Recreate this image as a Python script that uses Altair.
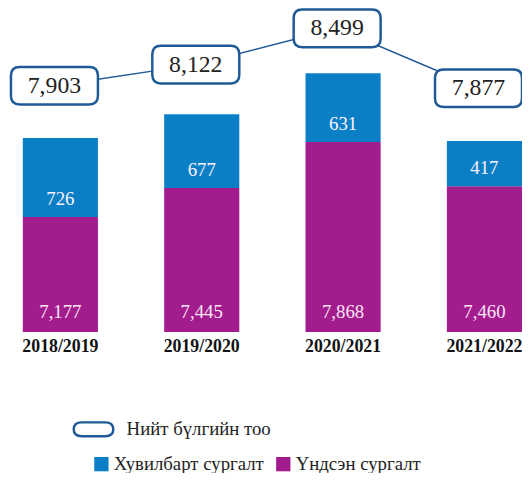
import altair as alt
import pandas as pd

years = ["2018/2019", "2019/2020", "2020/2021", "2021/2022"]
main_vals = [7177, 7445, 7868, 7460]      # Үндсэн сургалт
alt_vals = [726, 677, 631, 417]           # Хувилбарт сургалт
totals = [7903, 8122, 8499, 7877]         # Нийт бүлгийн тоо

cat_alt = "Хувилбарт сургалт"
cat_main = "Үндсэн сургалт"
cat_total = "Нийт бүлгийн тоо"

BLUE = "#0a7fc6"
MAGENTA = "#a31c8e"
BOX = "#1f5a96"

# bar scale (axis starts above zero, as in the original infographic)
Y_MIN, Y_MAX = 6120, 9075
# scale for the total callouts drawn above the bars
BOX_MIN, BOX_MAX = 5343, 8683

rows = []
for y, m, a in zip(years, main_vals, alt_vals):
    rows.append({"year": y, "cat": cat_main, "value": m, "ord": 0})
    rows.append({"year": y, "cat": cat_alt, "value": a, "ord": 1})
bars_df = pd.DataFrame(rows)

lab_df = pd.DataFrame({
    "year": years,
    "main": main_vals,
    "alt": alt_vals,
    "main_lbl": [f"{v:,}" for v in main_vals],
    "alt_lbl": [f"{v:,}" for v in alt_vals],
})

tot_df = pd.DataFrame({
    "year": years,
    "total": totals,
    "lbl": [f"{v:,}" for v in totals],
    "series": [cat_total] * len(years),
})

xscale = alt.Scale(paddingInner=0.4685, paddingOuter=0.0524, align=1)
x_enc = alt.X(
    "year:N", sort=years, scale=xscale, title=None,
    axis=alt.Axis(labelAngle=0, domain=False, ticks=False, labelPadding=6,
                  labelFont="Liberation Serif", labelFontWeight="bold",
                  labelFontSize=18, labelColor="#111"),
)
x_plain = alt.X("year:N", sort=years, scale=xscale)
yscale = alt.Scale(domain=[Y_MIN, Y_MAX], zero=False, nice=False)
bscale = alt.Scale(domain=[BOX_MIN, BOX_MAX], zero=False, nice=False)

bars = alt.Chart(bars_df).mark_bar(clip=True).encode(
    x=x_enc,
    y=alt.Y("sum(value):Q", scale=yscale, axis=None, stack="zero"),
    color=alt.Color(
        "cat:N",
        scale=alt.Scale(domain=[cat_alt, cat_main], range=[BLUE, MAGENTA]),
        legend=alt.Legend(orient="none", legendX=85, legendY=449,
                          direction="horizontal", title=None,
                          symbolType="square", symbolSize=210,
                          symbolStrokeWidth=0, labelFont="Liberation Serif",
                          labelFontSize=19, labelColor="#222",
                          labelOffset=3, columnPadding=10, padding=0),
    ),
    order=alt.Order("ord:Q", sort="ascending"),
)

alt_text = alt.Chart(lab_df).mark_text(
    font="Liberation Serif", fontSize=19, color="#fdf3fb", dy=-18, baseline="middle"
).encode(
    x=x_plain,
    y=alt.Y("main:Q", scale=yscale, axis=None),
    text="alt_lbl:N",
)

main_text = alt.Chart(lab_df).mark_text(
    font="Liberation Serif", fontSize=19, color="#fbe6f6", dy=-20, baseline="middle"
).encode(
    x=x_plain,
    y=alt.datum(Y_MIN, type="quantitative", scale=yscale, axis=None),
    text="main_lbl:N",
)

bar_part = alt.layer(bars, alt_text, main_text)

box_path = ("M -0.8 -0.432 L 0.8 -0.432 Q 1 -0.432 1 -0.232 L 1 0.232 "
            "Q 1 0.432 0.8 0.432 L -0.8 0.432 Q -1 0.432 -1 0.232 "
            "L -1 -0.232 Q -1 -0.432 -0.8 -0.432 Z")
legend_path = ("M -0.6 -0.35 L 0.6 -0.35 Q 1 -0.35 1 0 Q 1 0.35 0.6 0.35 "
               "L -0.6 0.35 Q -1 0.35 -1 0 Q -1 -0.35 -0.6 -0.35 Z")

XOFF = -6

line = alt.Chart(tot_df).mark_line(
    color=BOX, strokeWidth=1.5, xOffset=XOFF
).encode(
    x=x_plain,
    y=alt.Y("total:Q", scale=bscale, axis=None),
)

boxes = alt.Chart(tot_df).mark_point(
    shape=box_path, filled=False, fill="white", fillOpacity=1, strokeWidth=2.5,
    opacity=1, size=7744, xOffset=XOFF,
).encode(
    x=x_plain,
    y=alt.Y("total:Q", scale=bscale, axis=None),
    stroke=alt.Stroke(
        "series:N", scale=alt.Scale(domain=[cat_total], range=[BOX]),
        legend=alt.Legend(
            orient="none", legendX=65, legendY=402, title=None,
            symbolType=legend_path, symbolSize=1600,
            symbolFillColor="white", symbolStrokeWidth=2.5, symbolOpacity=1,
            labelFont="Liberation Serif", labelFontSize=19,
            labelColor="#222", labelOffset=12, padding=0,
        ),
    ),
)

box_text = alt.Chart(tot_df).mark_text(
    font="Liberation Serif", fontSize=24, color="#222", dx=XOFF,
    baseline="middle",
).encode(
    x=x_plain,
    y=alt.Y("total:Q", scale=bscale, axis=None),
    text="lbl:N",
)

box_part = alt.layer(line, boxes, box_text)

chart = alt.layer(bar_part, box_part).resolve_scale(y="independent").properties(
    width=520, height=325,
    autosize=alt.AutoSizeParams(type="none"),
    padding={"left": 0, "top": 0, "right": 0, "bottom": 140},
).configure_view(stroke=None)

chart.save("out.html", embed_options={"renderer": "svg", "actions": False})
